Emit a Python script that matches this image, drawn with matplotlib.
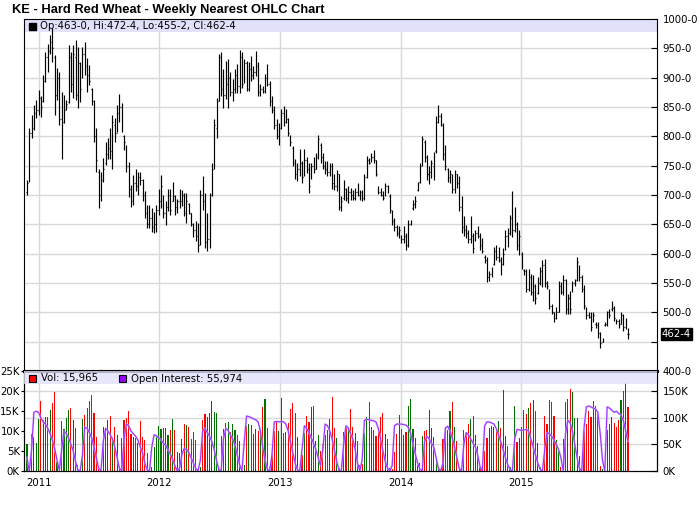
import pandas as pd
import matplotlib
matplotlib.use("Agg")
import matplotlib.pyplot as plt
import matplotlib.dates as mdates
from matplotlib.patches import Rectangle
from matplotlib.transforms import blended_transform_factory

# KE weekly nearest futures, cents per bushel
highs = [
    725, 814, 836, 853, 862, 879, 868, 905, 944, 958, 972, 985, 939, 916, 910, 876, 870, 862, 955, 944,
    955, 964, 952, 927, 952, 961, 933, 921, 882, 862, 814, 745, 740, 763, 791, 797, 814, 836, 831, 853,
    873, 856, 802, 785, 757, 717, 734, 745, 740, 740, 728, 706, 683, 683, 677, 671, 683, 711, 734, 700,
    689, 711, 711, 723, 700, 694, 711,
    709, 703, 703, 687, 670, 653, 656, 653, 709, 732, 703, 670, 703, 755, 829, 866, 940, 943, 914, 928,
    931, 909, 897, 914, 923, 948, 943, 931, 928, 926, 937, 920, 945, 926, 889, 886, 906, 923, 894, 869,
    852, 829, 823, 846, 852, 846, 832, 803, 784, 761, 755, 778, 758, 778, 764, 755, 755, 764, 772, 803,
    789, 772, 758, 758, 755, 755,
    735, 743, 735, 698, 726, 712, 715, 712, 709, 712, 720, 709, 709, 735, 766, 763, 772, 777, 760, 715,
    712, 706, 720, 717, 701, 675, 661, 649, 647, 632, 647, 635, 658, 658, 692, 698, 723, 755, 800, 794,
    769, 749, 760, 774, 834, 854, 840, 823, 786, 746, 743, 735, 743, 735, 732, 698, 664, 649, 641, 664,
    635, 641, 647, 635, 627, 598, 595,
    571, 577, 611, 614, 611, 594, 609, 640, 643, 666, 706, 680, 654, 640, 603, 574, 574, 574, 566, 563,
    549, 560, 577, 589, 591, 554, 540, 514, 500, 509, 554, 551, 563, 557, 531, 537, 554, 557, 594, 580,
    563, 546, 509, 500, 500, 500, 483, 483, 466, 457, 483, 503, 506, 520, 511, 489, 489, 500, 497, 491,
    472.5,
]
lows = [
    700, 723, 797, 811, 831, 836, 833, 859, 893, 910, 941, 927, 836, 862, 819, 762, 822, 845, 856, 876,
    865, 862, 848, 859, 899, 904, 876, 887, 853, 791, 740, 677, 689, 723, 751, 762, 762, 745, 791, 808,
    825, 808, 777, 740, 697, 680, 683, 706, 700, 717, 689, 660, 643, 643, 637, 635, 637, 666, 677, 660,
    649, 672, 666, 689, 666, 669, 677,
    681, 664, 653, 667, 647, 628, 622, 603, 615, 675, 610, 605, 610, 698, 744, 798, 860, 869, 849, 863,
    849, 869, 860, 874, 874, 874, 883, 891, 877, 877, 894, 897, 903, 869, 869, 874, 874, 886, 852, 840,
    812, 795, 786, 812, 818, 823, 801, 784, 749, 727, 724, 732, 721, 732, 738, 704, 727, 738, 744, 761,
    755, 744, 735, 732, 732, 710,
    709, 706, 675, 672, 692, 689, 686, 692, 692, 692, 698, 692, 689, 692, 729, 752, 757, 755, 732, 701,
    698, 692, 698, 703, 669, 649, 638, 630, 627, 618, 618, 607, 612, 649, 675, 678, 706, 720, 749, 757,
    726, 718, 729, 726, 772, 823, 817, 760, 743, 723, 720, 703, 703, 712, 672, 635, 630, 627, 618, 618,
    601, 621, 627, 607, 601, 584, 551,
    554, 560, 580, 589, 586, 563, 580, 606, 611, 631, 629, 637, 606, 597, 574, 563, 534, 537, 529, 520,
    514, 531, 546, 543, 543, 540, 506, 497, 483, 489, 500, 531, 529, 497, 497, 497, 534, 545, 554, 554,
    534, 506, 489, 491, 469, 483, 474, 457, 440, 449, 477, 477, 491, 503, 486, 480, 474, 480, 469, 471,
    455.25,
]
opens = [
    705, 725, 805, 815, 840, 845, 865, 860, 895, 935, 945, 960, 935, 870, 900, 830, 825, 850, 858, 935,
    890, 935, 870, 925, 900, 940, 920, 905, 880, 860, 800, 740, 700, 725, 755, 770, 780, 775, 820, 805,
    840, 850, 800, 785, 750, 710, 690, 720, 715, 730, 725, 700, 670, 650, 660, 645, 650, 675, 690, 695,
    670, 680, 700, 690, 698, 680, 690,
    690, 700, 670, 685, 670, 650, 640, 630, 615, 700, 690, 620, 625, 700, 745, 815, 860, 935, 880, 870,
    890, 900, 875, 880, 905, 885, 935, 895, 925, 880, 915, 905, 910, 920, 875, 880, 878, 900, 890, 860,
    845, 820, 800, 815, 840, 825, 830, 800, 780, 755, 735, 745, 755, 735, 760, 745, 730, 750, 745, 765,
    785, 765, 750, 745, 740, 750,
    720, 715, 735, 680, 695, 710, 695, 705, 700, 695, 705, 700, 705, 695, 730, 760, 758, 765, 760, 712,
    705, 700, 700, 715, 698, 675, 655, 645, 635, 630, 625, 630, 615, 650, 678, 685, 708, 722, 750, 790,
    765, 735, 740, 750, 775, 825, 835, 820, 770, 745, 730, 735, 710, 735, 720, 680, 645, 640, 635, 625,
    630, 625, 635, 630, 615, 595, 590,
    560, 565, 582, 605, 595, 590, 582, 608, 630, 635, 660, 640, 650, 615, 600, 572, 570, 540, 560, 535,
    545, 533, 550, 570, 580, 550, 538, 510, 500, 490, 500, 545, 535, 555, 505, 525, 536, 550, 555, 578,
    560, 540, 505, 495, 492, 485, 480, 478, 465, 450, 478, 480, 500, 505, 508, 487, 485, 480, 495, 475,
    463,
]
closes = [
    720, 805, 815, 840, 845, 870, 850, 895, 935, 920, 960, 950, 870, 900, 830, 820, 845, 855, 935, 890,
    940, 875, 930, 880, 940, 920, 905, 895, 860, 800, 760, 700, 725, 745, 770, 780, 775, 825, 805, 840,
    850, 815, 790, 750, 710, 690, 720, 715, 730, 725, 700, 670, 650, 660, 645, 650, 675, 690, 715, 670,
    680, 700, 675, 710, 680, 690, 695,
    700, 670, 690, 670, 650, 640, 630, 615, 700, 690, 620, 625, 690, 745, 820, 860, 935, 880, 870, 895,
    900, 875, 880, 905, 885, 940, 890, 925, 880, 915, 905, 910, 930, 875, 880, 878, 900, 890, 860, 845,
    820, 800, 815, 840, 825, 830, 805, 790, 755, 735, 745, 770, 730, 760, 745, 715, 750, 745, 765, 795,
    765, 750, 745, 740, 750, 720,
    715, 735, 680, 690, 715, 695, 705, 700, 695, 705, 700, 705, 695, 730, 760, 755, 765, 760, 735, 705,
    700, 695, 715, 705, 675, 655, 645, 635, 640, 625, 630, 615, 650, 655, 685, 690, 715, 750, 795, 765,
    735, 740, 755, 770, 825, 835, 820, 770, 750, 730, 735, 710, 735, 720, 680, 645, 640, 635, 625, 655,
    610, 635, 630, 615, 605, 590, 560,
    565, 570, 605, 595, 605, 570, 600, 630, 620, 660, 640, 665, 615, 630, 580, 570, 540, 560, 535, 545,
    525, 550, 570, 580, 550, 545, 510, 500, 490, 500, 545, 535, 555, 505, 525, 505, 550, 555, 585, 560,
    540, 510, 495, 492, 475, 495, 478, 465, 448, 455, 480, 500, 495, 515, 490, 485, 480, 495, 475, 485,
    462.5,
]

# volume of the nearest contract, thousands of contracts
volume_k = [
    6.7, 0.8, 9.2, 8.6, 7.1, 12.9, 17.4, 12.8, 13.6, 13.6,
    15.3, 16.9, 19.7, 2.3, 0.5, 12.4, 10.6, 13.3, 15.2, 15.8,
    12.7, 10.8, 1.5, 0.5, 12.9, 13.9, 15.7, 17.4, 19.0, 14.4,
    8.4, 1.0, 0.5, 10.9, 10.4, 12.7, 13.8, 8.3, 10.9, 8.9,
    1.2, 8.3, 12.8, 13.2, 15.0, 9.2, 8.5, 8.3, 7.0, 12.5,
    8.6, 7.8, 4.4, 0.5, 1.0, 6.1, 8.6, 11.2, 10.6, 10.8,
    10.8, 9.0, 10.2, 12.9, 10.2, 4.8, 4.5, 7.9, 11.7, 11.5,
    11.0, 8.0, 9.8, 7.8, 0.5, 1.0, 12.7, 14.2, 13.6, 14.6,
    17.4, 14.8, 14.4, 1.0, 8.8, 10.5, 12.1, 12.2, 9.8, 11.8,
    10.2, 8.9, 7.5, 0.5, 1.5, 11.2, 11.7, 11.5, 9.2, 10.6,
    10.1, 10.2, 16.0, 18.0, 10.8, 1.0, 4.0, 10.0, 12.2, 10.1,
    18.2, 9.4, 9.7, 12.0, 15.4, 17.0, 14.6, 8.5, 0.8, 4.0,
    9.5, 13.7, 12.2, 15.9, 16.2, 7.4, 9.1, 4.9, 6.7, 9.1,
    10.3, 13.0, 18.5, 10.7, 8.2, 0.7, 2.0, 9.7, 10.7, 11.1,
    15.5, 11.0, 9.5, 7.6, 1.4, 1.7, 9.5, 13.6, 17.2, 11.0,
    10.3, 8.7, 10.3, 13.4, 14.5, 9.2, 8.0, 0.7, 0.5, 4.7,
    9.2, 14.0, 10.6, 9.1, 9.7, 16.2, 18.0, 10.5, 8.2, 1.4,
    2.0, 8.7, 9.9, 10.2, 15.2, 10.7, 8.4, 3.2, 0.5, 0.5,
    8.0, 10.9, 10.3, 14.9, 17.2, 10.9, 7.6, 0.7, 0.5, 10.2,
    9.3, 11.7, 13.0, 13.7, 9.0, 6.2, 1.0, 0.5, 4.9, 8.2,
    10.7, 11.3, 10.9, 10.2, 12.4, 10.7, 20.2, 8.8, 6.2, 1.0,
    0.5, 16.2, 7.2, 8.2, 11.0, 15.2, 14.3, 15.7, 17.0, 17.7,
    15.0, 7.0, 1.0, 0.5, 13.7, 11.8, 17.7, 17.2, 13.7, 7.7,
    5.1, 1.0, 8.0, 17.2, 18.0, 20.5, 19.7, 13.2, 13.2, 3.7,
    0.5, 9.9, 11.8, 14.9, 13.4, 17.4, 16.2, 14.5, 1.2, 0.5,
    0.5, 10.3, 11.7, 13.4, 12.0, 10.9, 12.7, 17.7, 20.0, 22.0, 15.965,
]

# open interest of the nearest contract, thousands
open_interest_k = [
    25, 0, 40, 110, 112, 110, 100, 92, 88, 80,
    70, 58, 42, 20, 2, 40, 75, 70, 62, 50,
    38, 18, 2, 0, 30, 82, 80, 72, 62, 45,
    25, 5, 0, 55, 80, 75, 68, 60, 45, 25,
    5, 0, 60, 88, 85, 75, 70, 65, 58, 45,
    35, 15, 2, 0, 45, 68, 66, 62, 58, 52,
    48, 40, 32, 22, 10, 0, 5, 30, 42, 40,
    35, 25, 15, 5, 0, 20, 75, 80, 72, 65,
    55, 40, 20, 3, 0, 60, 80, 76, 68, 60,
    48, 30, 12, 0, 55, 103, 102, 100, 98, 96,
    92, 75, 45, 20, 3, 0, 30, 92, 93, 92,
    93, 92, 88, 75, 55, 35, 15, 2, 0, 40,
    85, 80, 72, 62, 52, 40, 25, 10, 40, 88,
    85, 75, 60, 40, 18, 2, 0, 50, 85, 80,
    70, 60, 40, 15, 0, 20, 95, 97, 96, 95,
    94, 92, 80, 60, 38, 18, 5, 0, 10, 85,
    88, 88, 88, 87, 86, 82, 70, 50, 32, 15,
    3, 0, 55, 65, 60, 52, 45, 25, 5, 0,
    15, 80, 84, 75, 62, 45, 25, 5, 0, 50,
    72, 68, 60, 52, 45, 30, 8, 0, 85, 92,
    92, 90, 88, 80, 68, 55, 40, 25, 12, 3,
    0, 60, 78, 77, 76, 77, 78, 75, 60, 45,
    30, 15, 3, 0, 40, 72, 70, 65, 58, 50,
    40, 25, 0, 70, 95, 90, 75, 50, 25, 5,
    0, 80, 120, 122, 120, 118, 116, 110, 70, 20,
    0, 120, 118, 114, 110, 112, 108, 105, 95, 75, 55.974,
]

price_ticks = list(range(400, 1001, 50))
vol_ticks_k = [0, 5, 10, 15, 20, 25]
oi_ticks_k = [0, 50, 100, 150]
years = [2011, 2012, 2013, 2014, 2015]

n = len(closes)
assert len(highs) == len(lows) == len(opens) == n == len(volume_k) == len(open_interest_k)

weeks = pd.date_range(end="2015-11-20", periods=n, freq="W-FRI")
x = mdates.date2num(weeks)


def eighths(p):
    whole = int(p)
    return f"{whole}-{int(round((p - whole) * 8))}"


# volume colour follows the weekly close direction
vol_colors = []
for i in range(n):
    if i == 0 or closes[i] > closes[i - 1]:
        vol_colors.append("#007000")
    elif closes[i] < closes[i - 1]:
        vol_colors.append("#ff0000")
    else:
        vol_colors.append("#000080")

W, H = 700, 512
GRID = "#d9d9d9"
BAND = "#e1e1fb"
FONT = "DejaVu Sans"
FS = 7.3

fig = plt.figure(figsize=(W / 100, H / 100), dpi=100)
ax = fig.add_axes([24 / W, 1 - 371 / H, 633 / W, 352 / H])
axv = fig.add_axes([24 / W, 1 - 471 / H, 633 / W, 100 / H], sharex=ax)

# price panel
ax.set_axisbelow(True)
ax.grid(True, color=GRID, lw=1)
ax.add_patch(Rectangle((0, 1 - 13 / 352), 1, 13 / 352, transform=ax.transAxes,
                       facecolor=BAND, edgecolor="none", zorder=0.8))
ax.vlines(x, lows, highs, color="black", lw=0.85, zorder=3)
ax.hlines(opens, x - 2.0, x, color="black", lw=0.85, zorder=3)
ax.hlines(closes, x, x + 2.0, color="black", lw=0.85, zorder=3)

ax.set_xlim(mdates.date2num(pd.Timestamp("2010-11-17")), mdates.date2num(pd.Timestamp("2016-02-16")))
ax.set_ylim(price_ticks[0], price_ticks[-1])
ax.set_xticks([mdates.date2num(pd.Timestamp(f"{y}-01-01")) for y in years])
ax.yaxis.tick_right()
ax.set_yticks(price_ticks)
ax.set_yticklabels(["" if v == 450 else eighths(v) for v in price_ticks])
ax.tick_params(axis="y", direction="in", length=4, labelsize=FS, pad=4)
ax.tick_params(axis="x", length=0, labelbottom=False)
for side in ["top", "left", "right"]:
    ax.spines[side].set_color("black")
ax.spines["bottom"].set_linewidth(2.2)

blend = blended_transform_factory(ax.transAxes, ax.transData)
ax.text(1 + 5 / 633, closes[-1], eighths(closes[-1]), transform=blend, color="white",
        fontsize=FS, family=FONT, va="center", ha="left",
        bbox=dict(facecolor="black", edgecolor="black", pad=0.8))

# volume / open interest panel
axv.set_axisbelow(True)
axv.grid(True, axis="x", color=GRID, lw=1)
oi_per_vol = 187.5 / vol_ticks_k[-1]
for t in oi_ticks_k[1:]:
    axv.axhline(t / oi_per_vol * 1000, color=GRID, lw=1, zorder=0.5)
axv.bar(x, [v * 1000 for v in volume_k], width=3.4, color=vol_colors, lw=0, zorder=2,
        antialiased=False)
axv.set_ylim(0, vol_ticks_k[-1] * 1000)
axv.set_yticks([t * 1000 for t in vol_ticks_k])
axv.set_yticklabels([f"{t}K" for t in vol_ticks_k])
axv.tick_params(axis="y", direction="out", length=2, labelsize=FS, pad=1)
axv.xaxis.set_major_formatter(mdates.DateFormatter("%Y"))
axv.tick_params(axis="x", length=0, labelsize=FS, pad=5)
axv.spines["top"].set_linewidth(2.2)

axo = axv.twinx()
axo.plot(x, [v * 1000 for v in open_interest_k], color="#d9b3ff", lw=1.5, alpha=0.7, zorder=2)
axo.plot(x, [v * 1000 for v in open_interest_k], color="#9933ff", lw=0.8, zorder=3)
axo.set_ylim(0, vol_ticks_k[-1] * oi_per_vol * 1000)
axo.set_yticks([t * 1000 for t in oi_ticks_k])
axo.set_yticklabels([f"{t}K" for t in oi_ticks_k])
axo.tick_params(axis="y", direction="in", length=4, labelsize=FS, pad=4)
axo.add_patch(Rectangle((0, 0.87), 1, 0.13, transform=axo.transAxes,
                        facecolor=BAND, edgecolor="none", alpha=0.8, zorder=4))

for a in (ax, axv, axo):
    for lab in a.get_xticklabels() + a.get_yticklabels():
        lab.set_family(FONT)

# title and legend rows
fig.text(12 / W, 1 - 9.5 / H, "KE - Hard Red Wheat - Weekly Nearest OHLC Chart",
         fontsize=9.3, fontweight="bold", family="Liberation Sans", va="center", ha="left")

fig.patches.append(Rectangle((29 / W, 1 - 29.5 / H), 7 / W, 7 / H, transform=fig.transFigure,
                             facecolor="black", edgecolor="black", zorder=10))
fig.text(40 / W, 1 - 26 / H,
         f"Op:{eighths(opens[-1])}, Hi:{eighths(highs[-1])}, Lo:{eighths(lows[-1])}, Cl:{eighths(closes[-1])}",
         fontsize=FS, family=FONT, va="center", ha="left", zorder=10)

fig.patches.append(Rectangle((29 / W, 1 - 382 / H), 7 / W, 7 / H, transform=fig.transFigure,
                             facecolor="#ff0000", edgecolor="black", lw=0.8, zorder=10))
fig.text(41 / W, 1 - 378.5 / H, f"Vol: {round(volume_k[-1] * 1000):,}",
         fontsize=FS, family=FONT, va="center", ha="left", zorder=10)
fig.patches.append(Rectangle((119 / W, 1 - 382 / H), 7 / W, 7 / H, transform=fig.transFigure,
                             facecolor="#9900ff", edgecolor="black", lw=0.8, zorder=10))
fig.text(131 / W, 1 - 378.5 / H, f"Open Interest: {round(open_interest_k[-1] * 1000):,}",
         fontsize=FS, family=FONT, va="center", ha="left", zorder=10)

fig.savefig("out.png", dpi=100)
